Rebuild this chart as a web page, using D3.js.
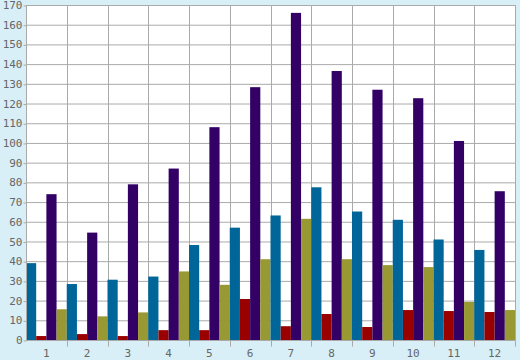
<!DOCTYPE html>
<html><head><meta charset="utf-8">
<script src="https://cdn.jsdelivr.net/npm/d3@7"></script>
<style>html,body{margin:0;padding:0;background:#d9eff7;}svg{display:block;}</style>
</head><body><svg id="c" width="520" height="360"></svg>
<script>
const categories = ["1","2","3","4","5","6","7","8","9","10","11","12"];
const seriesBlue   = [39, 28.4, 30.6, 32.2, 48.2, 57, 63.2, 77.5, 65.2, 61, 51, 45.7];
const seriesRed    = [2, 3, 2, 5, 5, 20.8, 7, 13.2, 6.6, 15.2, 14.7, 14.2];
const seriesPurple = [74, 54.5, 79, 87, 108, 128.3, 166, 136.5, 127, 122.7, 101, 75.5];
const seriesOlive  = [15.6, 12, 14, 34.8, 28, 41, 61.5, 41, 38, 37, 19.3, 15.2];
const yTicks = d3.range(0, 171, 10);
const colors = ["#006699", "#990000", "#330066", "#999933"];
const series = [seriesBlue, seriesRed, seriesPurple, seriesOlive];

const svg = d3.select("#c");
const L = 26, R = 515, T = 5, B = 340;
const x = d3.scaleBand().domain(categories).range([L, R]).padding(0);
const xs = d3.scaleBand().domain(d3.range(series.length)).range([0, x.bandwidth()]).padding(0);
const y = d3.scaleLinear().domain([0, 170]).range([B, T]);

svg.append("rect").attr("x", L).attr("y", T).attr("width", R - L).attr("height", B - T).attr("fill", "#fff");

// horizontal grid
svg.append("g").selectAll("line").data(yTicks).join("line")
  .attr("x1", L).attr("x2", R).attr("y1", d => y(d) + 0.5).attr("y2", d => y(d) + 0.5)
  .attr("stroke", "#aaa").attr("stroke-width", 1);
// vertical grid
svg.append("g").selectAll("line").data(categories.slice(1).concat(["end"])).join("line")
  .attr("x1", d => Math.round(d === "end" ? R : x(d)) + 0.5)
  .attr("x2", d => Math.round(d === "end" ? R : x(d)) + 0.5)
  .attr("y1", T).attr("y2", B)
  .attr("stroke", "#aaa").attr("stroke-width", 1);

// bars
const g = svg.append("g");
categories.forEach((c, i) => {
  series.forEach((s, j) => {
    g.append("rect")
      .attr("x", x(c) + xs(j))
      .attr("width", xs.bandwidth())
      .attr("y", y(s[i]))
      .attr("height", B - y(s[i]))
      .attr("fill", colors[j]);
  });
});

// y axis
const ya = svg.append("g").attr("transform", `translate(${L + 0.5},0)`)
  .call(d3.axisLeft(y).tickValues(yTicks).tickSize(3).tickPadding(1));
ya.select(".domain").attr("stroke", "#aaa").attr("d", `M0,${T}V${B + 0.5}`);
ya.selectAll(".tick line").attr("stroke", "#aaa").attr("transform", "translate(0,0.5)");
ya.selectAll("text").attr("fill", "#666").attr("font-family", "DejaVu Sans Mono, monospace").attr("font-size", 11);

// x axis
const xa = svg.append("g").attr("transform", `translate(0,${B + 0.5})`)
  .call(d3.axisBottom(x).tickSize(0).tickPadding(9));
xa.select(".domain").attr("stroke", "#aaa").attr("d", `M${L},0H${R + 0.5}`);
xa.selectAll("text").attr("fill", "#666").attr("font-family", "DejaVu Sans Mono, monospace").attr("font-size", 11);
xa.selectAll(".xb").data(categories.slice(1).concat(["end"])).join("line")
  .attr("x1", d => Math.round(d === "end" ? R : x(d)) + 0.5)
  .attr("x2", d => Math.round(d === "end" ? R : x(d)) + 0.5)
  .attr("y1", 0).attr("y2", 6).attr("stroke", "#aaa");
</script></body></html>
